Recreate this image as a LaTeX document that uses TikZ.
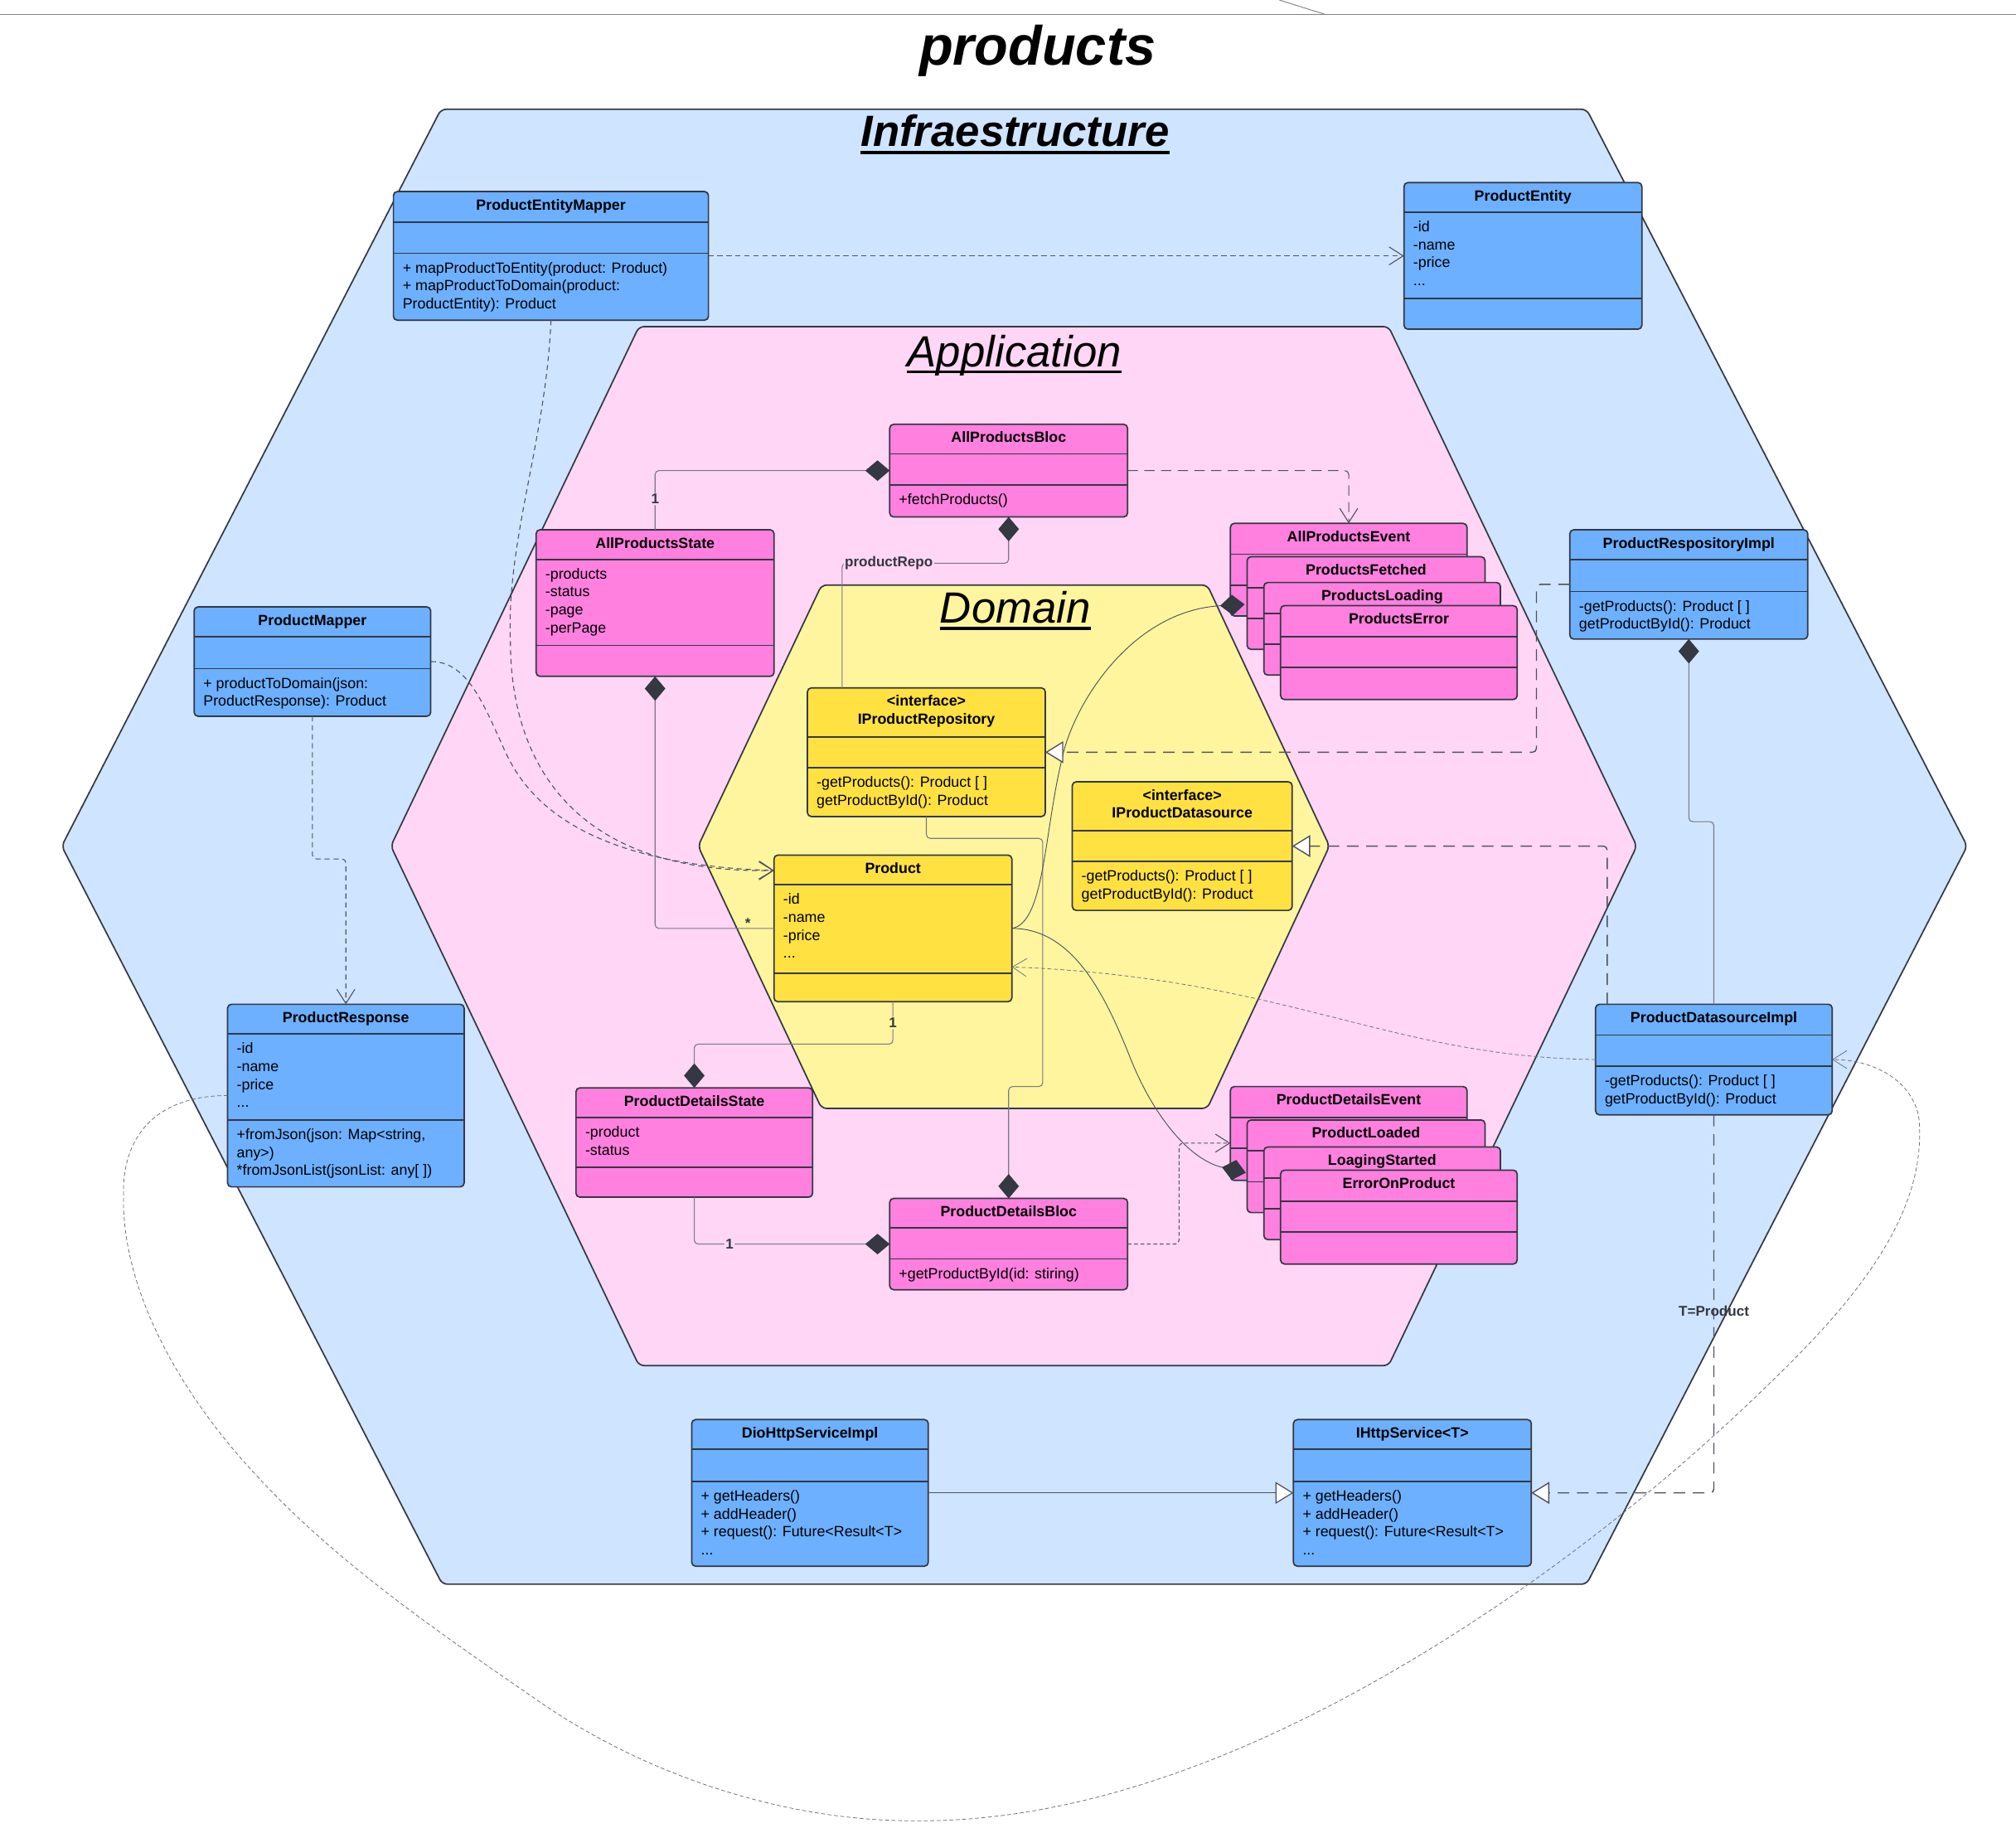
\documentclass[tikz,border=0pt]{standalone}
\usepackage{fontspec}
\setmainfont{Liberation Sans}
\usetikzlibrary{arrows.meta}

\definecolor{infrabg}{RGB}{207,228,255}
\definecolor{appbg}{RGB}{255,214,245}
\definecolor{dombg}{RGB}{255,245,158}
\definecolor{bluecls}{RGB}{108,176,255}
\definecolor{pinkcls}{RGB}{255,128,223}
\definecolor{yellowcls}{RGB}{255,225,66}
\definecolor{edgecol}{RGB}{51,56,66}
\definecolor{wirecol}{RGB}{120,120,134}
\definecolor{dashcol}{RGB}{78,82,94}
\definecolor{loopcol}{RGB}{110,110,120}

\newcommand{\lnstrut}{\rule{0pt}{9pt}}
% class box: name, fill, left, top, width, height
\newcommand{\umlclass}[6]{%
  \node[classbox, fill=#2, minimum width=#5, minimum height=#6, anchor=north west] (#1) at (#3,#4) {};}
% divider #2 pt below the top of box #1
\newcommand{\umlsep}[2]{%
  \draw[sepline] ([yshift=-#2pt]#1.north west) -- ([yshift=-#2pt]#1.north east);}
\newcommand{\umltitle}[2]{%
  \node[clstitle, anchor=north] (#1-title) at ([yshift=-5pt]#1.north) {\lnstrut#2};}
% compartment text under the divider at #2
\newcommand{\umltext}[3]{%
  \node[clstext, anchor=north west] (#1-text#2) at ([xshift=7pt,yshift=-#2pt-6pt]#1.north west) {\lnstrut#3};}
% one box of an event stack
\newcommand{\umlevent}[6]{%
  \umlclass{#1}{pinkcls}{#2}{#3}{#4}{#5}
  \umlsep{#1}{24}\umlsep{#1}{48}
  \umltitle{#1}{#6}}

\begin{document}
\begin{tikzpicture}[x=1pt, y=-1pt,
    classbox/.style={draw=edgecol, line width=1.1pt, rounded corners=3pt, inner sep=0pt, outer sep=0pt},
    sepline/.style={draw=edgecol, line width=1.1pt},
    clstitle/.style={font=\fontsize{11.5}{14}\selectfont\bfseries, inner sep=0pt, align=center},
    clstext/.style={font=\fontsize{11.5}{14}\selectfont, inner sep=0pt, align=left},
    hexa/.style={draw=edgecol, line width=1.1pt, rounded corners=4pt},
    hextitle/.style={font=\fontsize{34}{40}\selectfont\itshape, inner sep=0pt, anchor=base},
    lbl/.style={font=\fontsize{11}{13}\selectfont\bfseries, text=edgecol, inner sep=1pt},
    wire/.style={draw=wirecol, line width=0.7pt, rounded corners=3pt},
    compline/.style={wire, arrows={Diamond[length=19pt,width=16pt,color=edgecol]-}},
    complineto/.style={wire, draw=dashcol, line width=0.6pt, arrows={-Diamond[length=19pt,width=16pt,color=edgecol]}},
    depline/.style={draw=dashcol, line width=0.7pt, rounded corners=3pt, dash pattern=on 4pt off 3pt,
      arrows={-Straight Barb[length=11pt,width=14pt]}},
    realline/.style={draw=dashcol, line width=0.9pt, rounded corners=3pt, dash pattern=on 9pt off 6pt,
      arrows={-Triangle[open,fill=white,length=14pt,width=17pt]}},
    genline/.style={draw=dashcol, line width=0.8pt, arrows={-Triangle[open,fill=white,length=14pt,width=17pt]}}]

\fill[white] (0,0) rectangle (1568,1425.5);
\useasboundingbox (0,0) rectangle (1568,1425.5);

% cut off edge at the top
\draw[gray, line width=0.7pt] (0,11) -- (1568,11);
\draw[gray, line width=0.6pt] (995,0) -- (1030,11);

\node[font=\fontsize{43}{50}\selectfont\bfseries\itshape, inner sep=0pt, anchor=base] (maintitle) at (807,50.5) {products};

% the three layers
\draw[hexa, fill=infrabg] (343,85) -- (1234,85) -- (1530,658) -- (1234,1232) -- (344,1232) -- (48,658) -- cycle;
\draw[hexa, fill=appbg] (497,254) -- (1080,254) -- (1273,658) -- (1080,1062) -- (497,1062) -- (304,658) -- cycle;
\draw[hexa, fill=dombg] (639,455) -- (939,455) -- (1034,658) -- (939,862) -- (639,862) -- (543,658) -- cycle;

\node[hextitle, font=\fontsize{34}{40}\selectfont\bfseries\itshape] (inftitle) at (789.5,114) {Infraestructure};
\draw[line width=3pt] ([yshift=-4.6pt]inftitle.base west) -- ([yshift=-4.6pt]inftitle.base east);
\node[hextitle] (apptitle) at (789,285) {Application};
\draw[line width=2.2pt] ([yshift=-4pt]apptitle.base west) -- ([yshift=-4pt]apptitle.base east);
\node[hextitle] (domtitle) at (789.7,484.6) {Domain};
\draw[line width=2.2pt] ([yshift=-4pt]domtitle.base west) -- ([yshift=-4pt]domtitle.base east);

% infrastructure classes
\umlclass{pem}{bluecls}{306}{149}{245}{100}
\umlsep{pem}{24}\umlsep{pem}{48}
\umltitle{pem}{ProductEntityMapper}
\umltext{pem}{48}{+ mapProductToEntity(product: Product)\\+ mapProductToDomain(product:\\ProductEntity): Product}

\umlclass{entity}{bluecls}{1092}{142}{185}{114}
\umlsep{entity}{23}\umlsep{entity}{90}
\umltitle{entity}{ProductEntity}
\umltext{entity}{23}{-id\\-name\\-price\\...}

\umlclass{pmapper}{bluecls}{151}{472}{184}{85}
\umlsep{pmapper}{23}\umlsep{pmapper}{48}
\umltitle{pmapper}{ProductMapper}
\umltext{pmapper}{48}{+ productToDomain(json:\\ProductResponse): Product}

\umlclass{resp}{bluecls}{177}{781}{184}{142}
\umlsep{resp}{23}\umlsep{resp}{90}
\umltitle{resp}{ProductResponse}
\umltext{resp}{23}{-id\\-name\\-price\\...}
\umltext{resp}{90}{+fromJson(json: Map<string,\\any>)\\{}*fromJsonList(jsonList: any[ ])}

\umlclass{repoimpl}{bluecls}{1221}{412}{185}{85}
\umlsep{repoimpl}{23}\umlsep{repoimpl}{48}
\umltitle{repoimpl}{ProductRespositoryImpl}
\umltext{repoimpl}{48}{-getProducts(): Product [ ]\\getProductById(): Product}

\umlclass{dsimpl}{bluecls}{1241}{781}{184}{86}
\umlsep{dsimpl}{24}\umlsep{dsimpl}{48}
\umltitle{dsimpl}{ProductDatasourceImpl}
\umltext{dsimpl}{48}{-getProducts(): Product [ ]\\getProductById(): Product}

\umlclass{dio}{bluecls}{538}{1104}{184}{114}
\umlsep{dio}{23}\umlsep{dio}{48}
\umltitle{dio}{DioHttpServiceImpl}
\umltext{dio}{48}{+ getHeaders()\\+ addHeader()\\+ request(): Future<Result<T>\\...}

\umlclass{http}{bluecls}{1006}{1104}{185}{114}
\umlsep{http}{23}\umlsep{http}{48}
\umltitle{http}{IHttpService<T>}
\umltext{http}{48}{+ getHeaders()\\+ addHeader()\\+ request(): Future<Result<T>\\...}

% application classes
\umlclass{allbloc}{pinkcls}{692}{330}{185}{72}
\umlsep{allbloc}{23}\umlsep{allbloc}{47}
\umltitle{allbloc}{AllProductsBloc}
\umltext{allbloc}{47}{+fetchProducts()}

\umlclass{allstate}{pinkcls}{417}{412}{185}{114}
\umlsep{allstate}{23}\umlsep{allstate}{90}
\umltitle{allstate}{AllProductsState}
\umltext{allstate}{23}{-products\\-status\\-page\\-perPage}

\umlclass{pdstate}{pinkcls}{448}{846}{184}{85}
\umlsep{pdstate}{23}\umlsep{pdstate}{62}
\umltitle{pdstate}{ProductDetailsState}
\umltext{pdstate}{23}{-product\\-status}

\umlclass{pdbloc}{pinkcls}{692}{932}{185}{71}
\umlsep{pdbloc}{23}\umlsep{pdbloc}{47}
\umltitle{pdbloc}{ProductDetailsBloc}
\umltext{pdbloc}{47}{+getProductById(id: stiring)}

% event stacks, back to front
\umlevent{allevent}{957}{407}{184}{72}{AllProductsEvent}
\umlevent{fetched}{970}{433}{185}{72}{ProductsFetched}
\umlevent{loading}{983}{453}{184}{72}{ProductsLoading}
\umlevent{perror}{996}{471}{184}{73}{ProductsError}

\umlevent{pdevent}{957}{845}{184}{73}{ProductDetailsEvent}
\umlevent{loaded}{970}{871}{185}{72}{ProductLoaded}
\umlevent{started}{983}{892}{184}{72}{LoagingStarted}
\umlevent{eop}{996}{910}{184}{73}{ErrorOnProduct}

% domain classes
\umlclass{irepo}{yellowcls}{628}{535}{185}{100}
\umlsep{irepo}{38}\umlsep{irepo}{62}
\umltitle{irepo}{<interface>\\IProductRepository}
\umltext{irepo}{62}{-getProducts(): Product [ ]\\getProductById(): Product}

\umlclass{ids}{yellowcls}{834}{608}{171}{100}
\umlsep{ids}{38}\umlsep{ids}{62}
\umltitle{ids}{<interface>\\IProductDatasource}
\umltext{ids}{62}{-getProducts(): Product [ ]\\getProductById(): Product}

\umlclass{product}{yellowcls}{602}{665}{185}{114}
\umlsep{product}{23}\umlsep{product}{92}
\umltitle{product}{Product}
\umltext{product}{23}{-id\\-name\\-price\\...}

% mappers and responses
\draw[depline] (pem.east) -- (entity.west);
\draw[depline] (pem.south) .. controls (425,340) and (394,420) .. (397,500)
  .. controls (398,575) and (430,680) .. ([yshift=-12pt]product.north west);
\draw[depline] (pmapper.east) .. controls (362,514) and (375,545) .. (390,578)
  .. controls (405,612) and (440,672) .. ([yshift=-12pt]product.north west);
\draw[depline] (pmapper.south) -- ++(0,111) -| (resp.north);

% blocs and states
\draw[compline] (allbloc.west) -| (allstate.north) node[lbl, fill=appbg, pos=0.74] {1};
\draw[compline] (allbloc.south) -- ++(0,36) -| ([xshift=27pt]irepo.north west)
  node[lbl, fill=appbg, pos=0.36] {productRepo};
\draw[compline] (allstate.south) |- (product.west) node[lbl, pos=0.89, yshift=4pt] {*};
\draw[compline] (pdstate.north) |- ([yshift=-33pt]product.south) -- (product.south)
  node[lbl, fill=dombg, midway] {1};
\draw[compline] (pdbloc.west) -| (pdstate.south) node[lbl, fill=appbg, pos=0.41] {1};
\draw[compline] (pdbloc.north) -- ++(0,-87) -- ++(26.5,0) |- ([yshift=-17pt]irepo.south) -- (irepo.south);
\draw[depline, dash pattern=on 8pt off 5pt] (allbloc.east) -| (allevent.north);
\draw[depline, dash pattern=on 3pt off 2pt] (pdbloc.east) -- ++(40,0) |- ([yshift=-44pt]pdevent.north west);

% product into the event stacks
\draw[complineto] (product.east) .. controls (812,718) and (812,650) .. (826,590)
  .. controls (836,547) and (880,475) .. ([xshift=11pt,yshift=-63pt]allevent.north west);
\draw[complineto] (product.east) .. controls (835,722) and (860,775) .. (880,825)
  .. controls (898,868) and (925,902) .. ([xshift=12pt,yshift=-67pt]pdevent.north west);

% implementations
\draw[realline] (repoimpl.west) -- ++(-26,0) |- (irepo.east);
\draw[realline] ([xshift=9pt]dsimpl.north west) |- (ids.east);
\draw[compline] (repoimpl.south) -- ++(0,142) -| (dsimpl.north);
\draw[depline, draw=loopcol, line width=0.5pt, dash pattern=on 3pt off 2pt] (dsimpl.west)
  .. controls (1080,822) and (1000,760) .. ([yshift=-87pt]product.north east);
\draw[realline] (dsimpl.south) |- (http.east) node[lbl, pos=0.26] {T=Product};
\draw[genline] (dio.east) -- (http.west);

% long way round from the response to the datasource
\draw[depline, draw=loopcol, line width=0.5pt, dash pattern=on 3pt off 2pt] (resp.west)
  .. controls (125,852) and (96,880) .. (96,930)
  .. controls (96,1010) and (146,1090) .. (200,1148)
  .. controls (263,1216) and (342,1270) .. (419,1323)
  .. controls (504,1381) and (610,1416) .. (713,1416)
  .. controls (852,1416) and (989,1357) .. (1108,1285)
  .. controls (1203,1227) and (1291,1158) .. (1371,1081)
  .. controls (1427,1027) and (1493,958) .. (1493,880)
  .. controls (1493,845) and (1462,824) .. (dsimpl.east);

\end{tikzpicture}
\end{document}
